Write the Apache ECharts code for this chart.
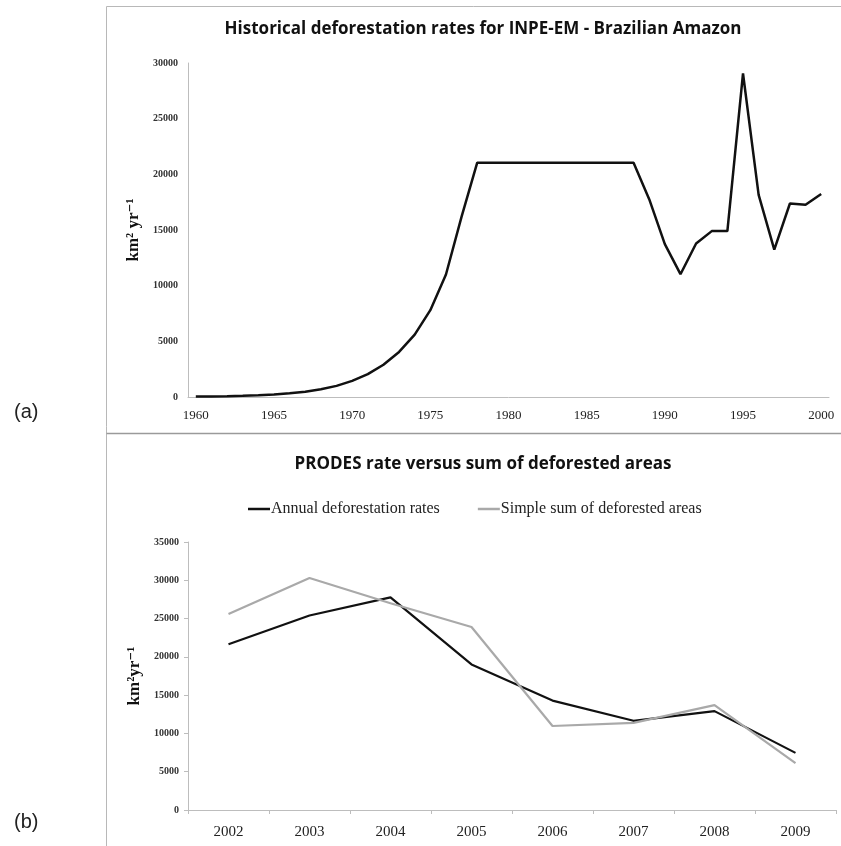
<!DOCTYPE html>
<html>
<head>
<meta charset="utf-8">
<script src="https://cdn.jsdelivr.net/npm/echarts@6/dist/echarts.min.js"></script>
<style>
  html, body { margin: 0; padding: 0; background: #fff; }
  #chart { width: 841px; height: 846px; }
</style>
</head>
<body>
<div id="chart"></div>
<script>
// (a) INPE-EM historical deforestation rates, 1960-2000 (km2/yr)
const histYears = [];
for (let y = 1960; y <= 2000; y++) histYears.push(String(y));
const histRates = [
  40, 55, 75, 110, 160, 230, 330, 480, 700, 1000,
  1450, 2050, 2900, 4050, 5600, 7800, 11000, 16200, 21050, 21050,
  21050, 21050, 21050, 21050, 21050, 21050, 21050, 21050, 21050, 17770,
  13730, 11030, 13790, 14900, 14900, 29060, 18160, 13230, 17380, 17260,
  18230
];

// (b) PRODES annual rate versus simple sum of deforested areas (km2/yr)
const prodesYears = ['2002', '2003', '2004', '2005', '2006', '2007', '2008', '2009'];
const annualRates = [21650, 25400, 27770, 19010, 14290, 11650, 12910, 7460];
const summedAreas = [25600, 30300, 27000, 23900, 10970, 11380, 13700, 6120];

const serif = '"Liberation Serif", "DejaVu Serif", serif';
const sans = '"Open Sans", "Noto Sans", sans-serif';
const frameColor = '#b8b8b8';
const axisColor = '#bdbdbd';
const plainNumber = v => String(v);

const chart = echarts.init(document.getElementById('chart'), null, { renderer: 'canvas' });

chart.setOption({
  backgroundColor: '#fff',
  animation: false,
  title: [
    {
      text: 'Historical deforestation rates for INPE-EM - Brazilian Amazon',
      left: 478, top: 16, textAlign: 'center',
      textStyle: { fontFamily: sans, fontWeight: 'bold', fontSize: 17, color: '#111' }
    },
    {
      text: 'PRODES rate versus sum of deforested areas',
      left: 478, top: 451, textAlign: 'center',
      textStyle: { fontFamily: sans, fontWeight: 'bold', fontSize: 17, color: '#111' }
    }
  ],
  legend: {
    left: 243, top: 496,
    icon: 'rect', itemWidth: 22, itemHeight: 2.5, itemGap: 38,
    textStyle: { fontFamily: serif, fontSize: 16, color: '#222', padding: [0, 0, 0, -4] },
    data: ['Annual deforestation rates', 'Simple sum of deforested areas']
  },
  grid: [
    { left: 188, right: 12, top: 63, bottom: 449 },
    { left: 188, right: 5, top: 542, bottom: 36 }
  ],
  xAxis: [
    {
      type: 'category', gridIndex: 0, data: histYears, boundaryGap: true,
      axisLine: { lineStyle: { color: axisColor, width: 1 } },
      axisTick: { show: false },
      axisLabel: { interval: 4, fontFamily: serif, fontSize: 13, color: '#222', margin: 12 },
      splitLine: { show: false }
    },
    {
      type: 'category', gridIndex: 1, data: prodesYears, boundaryGap: true,
      axisLine: { lineStyle: { color: axisColor, width: 1 } },
      axisTick: { show: true, length: 4, lineStyle: { color: axisColor } },
      axisLabel: { fontFamily: serif, fontSize: 15, color: '#222', margin: 15 },
      splitLine: { show: false }
    }
  ],
  yAxis: [
    {
      type: 'value', gridIndex: 0, min: 0, max: 30000, interval: 5000,
      name: 'km² yr⁻¹', nameLocation: 'middle', nameRotate: 90, nameGap: 43,
      nameTextStyle: { fontFamily: serif, fontWeight: 'bold', fontSize: 17, color: '#111' },
      axisLine: { show: true, lineStyle: { color: axisColor, width: 1 } },
      axisTick: { show: false },
      axisLabel: { formatter: plainNumber, fontFamily: serif, fontWeight: 'bold', fontSize: 10, color: '#333', margin: 10 },
      splitLine: { show: false }
    },
    {
      type: 'value', gridIndex: 1, min: 0, max: 35000, interval: 5000,
      name: 'km²yr⁻¹', nameLocation: 'middle', nameRotate: 90, nameGap: 45,
      nameTextStyle: { fontFamily: serif, fontWeight: 'bold', fontSize: 17, color: '#111' },
      axisLine: { show: true, lineStyle: { color: axisColor, width: 1 } },
      axisTick: { show: true, length: 4, lineStyle: { color: axisColor } },
      axisLabel: { formatter: plainNumber, fontFamily: serif, fontWeight: 'bold', fontSize: 10, color: '#333', margin: 9 },
      splitLine: { show: false }
    }
  ],
  series: [
    {
      name: 'INPE-EM', type: 'line', xAxisIndex: 0, yAxisIndex: 0,
      data: histRates, showSymbol: false, symbol: 'none',
      lineStyle: { color: '#111', width: 2.5 }
    },
    {
      name: 'Annual deforestation rates', type: 'line', xAxisIndex: 1, yAxisIndex: 1,
      data: annualRates, showSymbol: false, symbol: 'none',
      itemStyle: { color: '#111' },
      lineStyle: { color: '#111', width: 2.2 }
    },
    {
      name: 'Simple sum of deforested areas', type: 'line', xAxisIndex: 1, yAxisIndex: 1,
      data: summedAreas, showSymbol: false, symbol: 'none',
      itemStyle: { color: '#a9a9a9' },
      lineStyle: { color: '#a9a9a9', width: 2.2 }
    }
  ],
  graphic: [
    // panel frames
    { type: 'line', shape: { x1: 106.5, y1: 6.5, x2: 841, y2: 6.5 }, style: { stroke: frameColor, lineWidth: 1 }, silent: true },
    { type: 'line', shape: { x1: 106.5, y1: 6.5, x2: 106.5, y2: 846 }, style: { stroke: frameColor, lineWidth: 1 }, silent: true },
    { type: 'line', shape: { x1: 106.5, y1: 433.5, x2: 841, y2: 433.5 }, style: { stroke: '#9a9a9a', lineWidth: 1.5 }, silent: true },
    // panel letters
    { type: 'text', left: 14, top: 402, style: { text: '(a)', font: '20px "Liberation Sans", Arial, sans-serif', fill: '#222' }, silent: true },
    { type: 'text', left: 14, top: 812, style: { text: '(b)', font: '20px "Liberation Sans", Arial, sans-serif', fill: '#222' }, silent: true }
  ]
});
</script>
</body>
</html>
